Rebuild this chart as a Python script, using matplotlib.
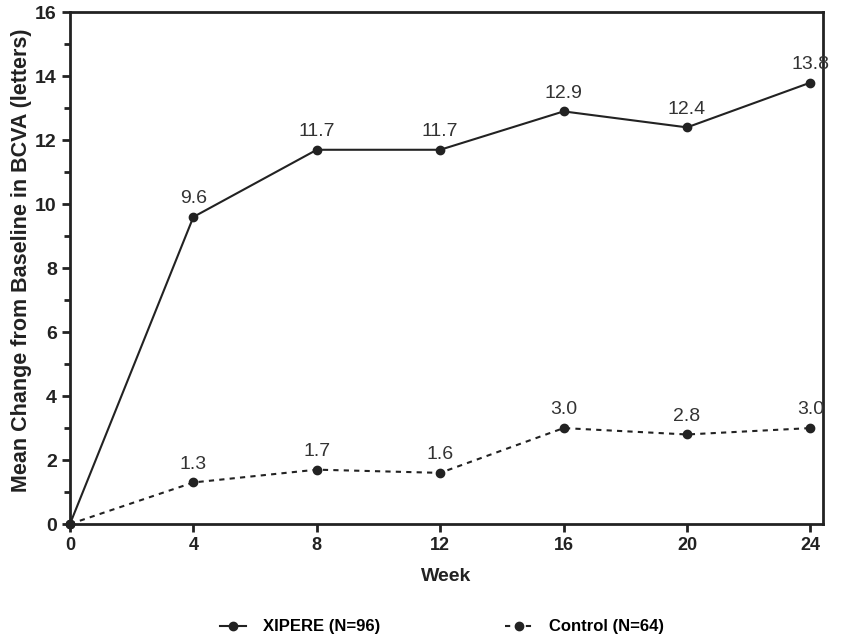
import matplotlib.pyplot as plt
from matplotlib.ticker import MultipleLocator

weeks = [0, 4, 8, 12, 16, 20, 24]
xipere = [0, 9.6, 11.7, 11.7, 12.9, 12.4, 13.8]
control = [0, 1.3, 1.7, 1.6, 3.0, 2.8, 3.0]
xipere_labels = ["", "9.6", "11.7", "11.7", "12.9", "12.4", "13.8"]
control_labels = ["", "1.3", "1.7", "1.6", "3.0", "2.8", "3.0"]

plt.rcParams['font.family'] = ['Liberation Sans', 'DejaVu Sans']

fig = plt.figure(figsize=(8.43, 6.43), dpi=100)
ax = fig.add_axes([0.083, 0.185, 0.893, 0.796])

ax.plot(weeks, xipere, color='#222222', lw=1.5, marker='o', ms=6,
        label='XIPERE (N=96)', clip_on=False, zorder=3)
ax.plot(weeks, control, color='#222222', lw=1.5, ls=(0, (2.5, 2.5)), marker='o', ms=6,
        label='Control (N=64)', clip_on=False, zorder=3)

for x, y, t in zip(weeks, xipere, xipere_labels):
    if t:
        ax.annotate(t, (x, y), xytext=(0, 7), textcoords='offset points',
                    ha='center', va='bottom', fontsize=14, color='#333333')
for x, y, t in zip(weeks, control, control_labels):
    if t:
        ax.annotate(t, (x, y), xytext=(0, 7), textcoords='offset points',
                    ha='center', va='bottom', fontsize=14, color='#333333')

ax.set_xlim(0, 24.4)
ax.set_ylim(0, 16)
ax.set_xticks(weeks)
ax.yaxis.set_major_locator(MultipleLocator(2))
ax.yaxis.set_minor_locator(MultipleLocator(1))
for s in ax.spines.values():
    s.set_linewidth(2)
    s.set_color('#222222')
ax.tick_params(axis='both', which='major', width=2, length=6, color='#222222',
               labelcolor='#222222')
ax.tick_params(axis='x', labelsize=13)
ax.tick_params(axis='y', labelsize=14)
ax.tick_params(axis='y', which='minor', width=2, length=4, color='#222222')
for lbl in ax.get_xticklabels() + ax.get_yticklabels():
    lbl.set_fontweight('bold')

ax.set_xlabel('Week', fontsize=14, fontweight='bold', color='#222222', labelpad=10)
ax.set_ylabel('Mean Change from Baseline in BCVA (letters)', fontsize=15.5,
              fontweight='bold', color='#222222')
ax.yaxis.set_label_coords(-0.05, 0.516)

fig.legend(loc='center', bbox_to_anchor=(0.524, 0.025), ncol=2, frameon=False,
           handlelength=1.6, handletextpad=1.0, columnspacing=7.5,
           prop={'weight': 'bold', 'size': 12})

fig.savefig('out.png', dpi=100)
